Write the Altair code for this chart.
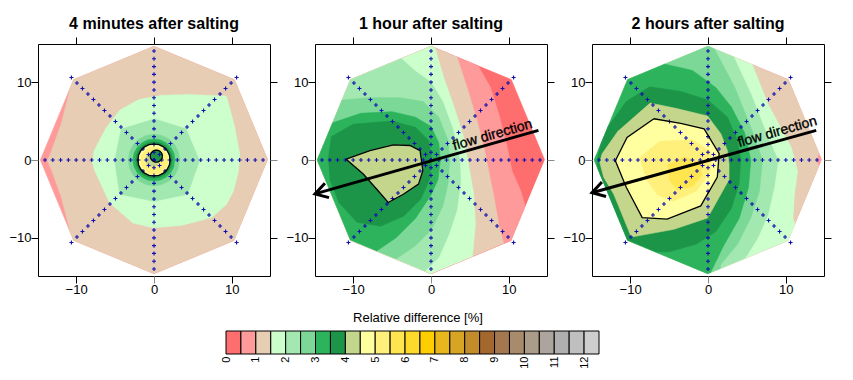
import math
import altair as alt
import pandas as pd

# ---------------- colour scale (25 classes, 0 .. 12.5 % in 0.5 steps) -------------
PALETTE = ["#FF6E6E", "#FF9A9A", "#E6CDB4", "#CCFFCC", "#A3E8B1", "#7BD897",
           "#2CB35C", "#1D9549", "#C3D68B", "#FFFFA0", "#FFF07C", "#FFE650",
           "#FFDA2B", "#FFCE00", "#E8B71E", "#D7A424", "#C28C2A", "#A3672F",
           "#A3774F", "#A88A6C", "#AB9C8A", "#ACA49D", "#AFAFAF", "#BFBFBF", "#CECECE"]
LEGEND_BREAKS = [0, 0.5, 1, 1.5, 2, 2.5, 3, 3.5, 4, 4.5, 5, 5.5, 6, 6.5, 7, 7.5,
                 8, 8.5, 9, 9.5, 10, 10.5, 11, 11.5, 12, 12.5]
LEGEND_LABELS = [0, 1, 2, 3, 4, 5, 6, 7, 8, 9, 10, 11, 12]
LEGEND_TITLE = "Relative difference [%]"

TITLES = ["4 minutes after salting", "1 hour after salting", "2 hours after salting"]
TICKS = [-10, 0, 10]

# measured octagon (sampling domain)
OCTAGON = [(14.6, 0), (10.32, 10.32), (0, 14.6), (-10.32, 10.32),
           (-14.6, 0), (-10.32, -10.32), (0, -14.6), (10.32, -10.32)]

# probe positions (radial offsets along the 4 measuring lines)
AXIS_STEPS = [-14, -13, -12, -11, -10, -9, -8, -7, -6, -5, -4, -3, -2, -1, 0,
              1, 2, 3, 4, 5, 6, 7, 8, 9, 10, 11, 12, 13, 14]
DIAG_STEPS = [-15, -14, -13, -12, -11, -10, -9, -8, -7, -6, -5, -4, -3, -2, -1, 0,
              1, 2, 3, 4, 5, 6, 7, 8, 9, 10, 11, 12, 13, 14, 15]


def ring(cx, cy, r, n=20):
    return [(cx + r * math.cos(2 * math.pi * k / n), cy + r * math.sin(2 * math.pi * k / n))
            for k in range(n)]


# ---------------- contour regions (colour class, outline), painted in order -------
P1_SHAPES = [
    (1, OCTAGON),
    (2, [(-9.5, 16), (-10.3, 10.6), (-10.6, 9.8), (-11.9, 4.7), (-13.3, 0.77), (-13.7, -0.1),
         (-13.1, -1.4), (-11.9, -4.8), (-11.0, -8.25), (-10.4, -10.6), (-9.5, -16), (16, -16), (16, 16)]),
    (3, [(0.7, 8.3), (4.5, 8.4), (9.3, 8.2), (10.3, 4.5), (11.0, 0.8), (10.85, -1.4), (10.2, -4.0),
         (9.3, -5.7), (7.4, -7.4), (3.5, -8.4), (-0.1, -8.7), (-2.7, -8.1), (-5.7, -5.5),
         (-7.6, -1.4), (-7.9, -0.3), (-7.7, 1.2), (-6.1, 4.2), (-4.4, 6.4), (-1.8, 7.85)]),
    (4, [(0, 5.3), (4.1, 4.0), (5.85, -0.1), (4.3, -4.4), (0, -5.3), (-4.4, -4.4), (-5.05, -0.1), (-4.2, 4.0)]),
    (5, ring(0, 0, 3.3)),
    (6, ring(0, 0, 2.7)),
    (7, ring(0, 0, 2.35)),
    (8, ring(0, 0, 2.08)),
    (9, ring(0, 0, 1.95)),
    (10, ring(0.05, -0.1, 1.75)),
    (8, ring(-0.2, 0.05, 0.9)),
    (7, ring(0.3, 0.5, 0.78)),
]
P1_LINES = [ring(0, 0, 2.08), ring(0.3, 0.5, 0.78)]

P2_SHAPES = [
    (0, OCTAGON),
    (1, [(5.6, 16), (6.13, 11.96), (7.6, 9.4), (8.7, 5.9), (9.8, 1.6), (10.4, -1.4), (11.5, -3.9),
         (12.15, -6.1), (13.5, -8.5), (16, -9.5), (16, -16), (-16, -16), (-16, 16)]),
    (2, [(2.9, 16), (3.1, 13.9), (4.6, 9.4), (5.9, 5.1), (6.8, 1.6), (7.4, -1.4), (8.1, -4.8),
         (8.7, -8.3), (9.35, -10.8), (10, -16), (-16, -16), (-16, 16)]),
    (3, [(0.3, 16), (0.54, 14.3), (1.6, 10.7), (3.1, 6.4), (4.2, 2.9), (4.8, -0.5), (5.5, -4.4),
         (5.7, -8.3), (5.3, -12.6), (5.0, -16), (-16, -16), (-16, 16)]),
    (4, [(-4.6, 15.5), (-3.8, 13.0), (-2.0, 11.4), (0, 10.0), (1.5, 7.5), (2.8, 4.0), (3.7, 0),
         (3.8, -3.0), (3.3, -6.5), (2.3, -9.5), (1.0, -12.5), (-1.0, -14.5), (-2, -16),
         (-16, -16), (-16, 16)]),
    (5, [(-12.5, 9.0), (-11.4, 7.7), (-8, 8.0), (-4, 8.0), (-1, 7.5), (1, 5.5), (2.2, 2.5), (2.4, 0),
         (2.2, -3.0), (1.5, -6.0), (0, -9.0), (-2, -11.0), (-4.5, -12.7), (-5.5, -14), (-6, -16),
         (-16, -16), (-16, 9.0)]),
    (6, [(-13.5, 5.5), (-12.6, 4.8), (-9, 6.0), (-5, 6.2), (-2, 5.5), (0, 4.3), (1.0, 2.2), (1.2, 0),
         (0.9, -2.5), (0, -4.5), (-2, -7.5), (-4.5, -10), (-7, -11.7), (-7.5, -13), (-16, -16),
         (-16, 5.5)]),
    (7, [(-13.2, 0), (-12.8, 3), (-10, 4.6), (-5, 5.0), (-2, 4.2), (-0.3, 2.5), (0.1, 0), (-0.2, -2.5),
         (-1.3, -5), (-3.5, -7.2), (-6.5, -8.5), (-9.5, -8), (-11.8, -5.5), (-13, -2.5)]),
    (8, [(-10.9, 0.1), (-7.85, 1.2), (-4.84, 1.94), (-2.7, 1.86), (-1.4, 1.2), (-1.05, -1.37),
         (-1.6, -3.1), (-3.55, -4.4), (-5.5, -5.46), (-6.8, -3.95), (-8.7, -1.8)]),
]
P2_LINES = [P2_SHAPES[-1][1]]

P3_SHAPES = [
    (1, OCTAGON),
    (2, [(-16, 16), (16, 16), (16, 1.5), (14.2, 0.7), (13.9, 0), (14.2, -0.7), (16, -1.5),
         (16, -16), (-16, -16)]),
    (3, [(5.0, 16), (5.7, 12.2), (7.7, 7.2), (10.7, 1.6), (11.5, -1.4), (11.1, -4.4), (10.9, -7.5),
         (11.3, -8.6), (13, -10), (16, -12), (16, -16), (-16, -16), (-16, 16)]),
    (4, [(2.6, 16), (2.9, 14.1), (5.5, 8.5), (7.7, 2.9), (9.0, 0), (8.5, -3.5), (7.7, -7.0),
         (6.4, -10), (5.1, -12.1), (4.0, -13.5), (3.5, -16), (-16, -16), (-16, 16)]),
    (5, [(0.5, 16), (0.8, 14.3), (3.4, 9.4), (5.5, 4.2), (7.0, 0), (6.6, -4), (5.5, -7.4),
         (3.8, -10.8), (1.65, -13.4), (1.2, -16), (-16, -16), (-16, 16)]),
    (6, [(-6, 13.5), (-5.5, 12.3), (-2, 11.5), (1, 9.3), (3, 6.8), (4.7, 3.5), (5.5, 0), (5.2, -3.5),
         (4, -7.5), (2, -11), (0.3, -14.5), (0, -16), (-16, -16), (-16, 16)]),
    (7, [(-14.25, 0), (-13.4, 3.5), (-10.5, 7.5), (-7.5, 9.4), (-3.5, 8.8), (0, 7.7), (2.5, 5.5),
         (3.8, 2.5), (4.2, 0), (4.0, -3), (3.0, -6.2), (1.0, -9.2), (-1.5, -10.8), (-5, -11.8),
         (-8.5, -11.8), (-10.8, -10.6), (-12.5, -7), (-14, -3.5)]),
    (8, [(-7.47, 7.32), (-4, 6.6), (-0.06, 5.65), (1.65, 3.36), (2.5, 1.2), (2.7, -0.5), (2.7, -2.5),
         (1.2, -5.2), (-0.06, -7.45), (-4.37, -8.9), (-9.85, -9.9), (-12.1, -4.4), (-13.4, -2.2),
         (-13.9, -0.3), (-13.6, 0.8), (-11.5, 3.8)]),
    (9, [(-6.95, 5.3), (-3.5, 4.7), (-0.5, 4.0), (1.43, 0.8), (1.2, -2.2), (-0.93, -5.9),
         (-5.25, -7.6), (-8.45, -7.4), (-10.5, -3.5), (-11.9, -0.1), (-10.4, 2.9)]),
    (10, [(-8.8, 0.3), (-6.2, 2.4), (-2, 2.6), (0.4, 1.0), (0.3, -1.5), (-1.5, -4.0), (-4.5, -5.3),
          (-6.5, -4.5), (-8.0, -2.3)]),
    (11, [(-5.2, -0.6), (-3, 0.4), (-1.0, -0.4), (-0.8, -2.0), (-2.0, -3.4), (-4, -3.8), (-5.0, -2.5)]),
]
P3_LINES = [P3_SHAPES[8][1]]

# flow arrow (start, tip) and label position per panel
ARROWS = [None,
          {"start": (13.8, 3.8), "tip": (-14.9, -4.35), "label": (7.9, 3.2)},
          {"start": (13.9, 3.8), "tip": (-14.9, -4.2), "label": (8.9, 3.6)}]
ARROW_LABEL = "flow direction"

FONT = "Liberation Sans"
DOM = [-14.9, 14.9]
PW, PH = 232, 232


def clip_to_octagon(pts):
    out = list(pts)
    n = len(OCTAGON)
    for k in range(n):
        ax, ay = OCTAGON[k]
        bx, by = OCTAGON[(k + 1) % n]
        inp, out = out, []
        if not inp:
            break

        def side(p):
            return (bx - ax) * (p[1] - ay) - (by - ay) * (p[0] - ax)

        s = inp[-1]
        for e in inp:
            cs, ce = side(s), side(e)
            if ce >= 0:
                if cs < 0:
                    t = cs / (cs - ce)
                    out.append((s[0] + t * (e[0] - s[0]), s[1] + t * (e[1] - s[1])))
                out.append(e)
            elif cs >= 0:
                t = cs / (cs - ce)
                out.append((s[0] + t * (e[0] - s[0]), s[1] + t * (e[1] - s[1])))
            s = e
    return out


probe_pts = ([(s, 0) for s in AXIS_STEPS] + [(0, s) for s in AXIS_STEPS]
             + [(s / math.sqrt(2), s / math.sqrt(2)) for s in DIAG_STEPS]
             + [(s / math.sqrt(2), -s / math.sqrt(2)) for s in DIAG_STEPS])
probe_df = pd.DataFrame(probe_pts, columns=["x", "y"])

XS = alt.Scale(domain=DOM, nice=False, zero=False)
YS = alt.Scale(domain=DOM, nice=False, zero=False)
GRAY0 = {"condition": {"test": "datum.value === 0", "value": "#8a8a8a"}, "value": "black"}

CROSS = "M -1 0 L 1 0 M 0 -1 L 0 1"
ARROW_HEAD = "M 1 -0.6 L 0 0 L 1 0.6"


def panel(title, shapes, lines, arrow):
    rows = []
    for k, (ci, pts) in enumerate(shapes):
        for i, (x, y) in enumerate(clip_to_octagon(pts)):
            rows.append({"pid": k, "i": i, "x": x, "y": y, "color": PALETTE[ci]})
    poly_df = pd.DataFrame(rows)
    layers = []
    for k in range(len(shapes)):
        layers.append(
            alt.Chart(poly_df).transform_filter(alt.datum.pid == k)
            .mark_line(strokeWidth=0.6)
            .encode(x=alt.X("x:Q", scale=XS, axis=None),
                    y=alt.Y("y:Q", scale=YS, axis=None),
                    order="i:Q",
                    fill=alt.Fill("color:N", scale=None),
                    stroke=alt.Stroke("color:N", scale=None))
        )
    # probe points with bottom / left axes
    layers.append(
        alt.Chart(probe_df).mark_point(shape=CROSS, size=16, filled=False, color="#1010B0",
                                       strokeWidth=1.1, opacity=1)
        .encode(x=alt.X("x:Q", scale=XS,
                        axis=alt.Axis(orient="bottom", values=TICKS, title=None, tickColor=GRAY0)),
                y=alt.Y("y:Q", scale=YS,
                        axis=alt.Axis(orient="left", values=TICKS, title=None, tickColor=GRAY0)))
    )
    # black contour line (4 %) with top / right tick axes
    lrows = []
    for c, pts in enumerate(lines):
        closed = list(pts) + [pts[0]]
        for i, (x, y) in enumerate(closed):
            lrows.append({"cid": c, "i": i, "x": x, "y": y})
    line_df = pd.DataFrame(lrows)
    layers.append(
        alt.Chart(line_df).mark_line(color="black", strokeWidth=1.3)
        .encode(x=alt.X("x:Q", scale=XS,
                        axis=alt.Axis(orient="top", values=TICKS, title=None, labels=False)),
                y=alt.Y("y:Q", scale=YS,
                        axis=alt.Axis(orient="right", values=TICKS, title=None, labels=False,
                                      tickColor=GRAY0)),
                detail="cid:N", order="i:Q")
    )
    if arrow is not None:
        adf = pd.DataFrame({"x": [arrow["start"][0], arrow["tip"][0]],
                            "y": [arrow["start"][1], arrow["tip"][1]], "i": [0, 1]})
        layers.append(
            alt.Chart(adf).mark_line(color="black", strokeWidth=3)
            .encode(x=alt.X("x:Q", scale=XS, axis=None), y=alt.Y("y:Q", scale=YS, axis=None),
                    order="i:Q"))
        hdf = pd.DataFrame({"x": [arrow["tip"][0]], "y": [arrow["tip"][1]]})
        layers.append(
            alt.Chart(hdf).mark_point(shape=ARROW_HEAD, size=620, filled=False, color="black",
                                      strokeWidth=3, angle=344, opacity=1)
            .encode(x=alt.X("x:Q", scale=XS, axis=None), y=alt.Y("y:Q", scale=YS, axis=None)))
        tdf = pd.DataFrame({"x": [arrow["label"][0]], "y": [arrow["label"][1]], "t": [ARROW_LABEL]})
        layers.append(
            alt.Chart(tdf).mark_text(font=FONT, fontSize=14, angle=344, align="center",
                                     baseline="middle", color="black", stroke="black",
                                     strokeWidth=0.35)
            .encode(x=alt.X("x:Q", scale=XS, axis=None), y=alt.Y("y:Q", scale=YS, axis=None),
                    text="t:N"))
    return (alt.layer(*layers)
            .resolve_axis(x="independent", y="independent")
            .properties(width=PW, height=PH,
                        title=alt.TitleParams(title, fontSize=16, fontWeight="bold", font=FONT,
                                              offset=5, anchor="middle", color="black"),
                        view=alt.ViewBackground(stroke="black", strokeWidth=1)))


panels = [panel(TITLES[0], P1_SHAPES, P1_LINES, ARROWS[0]),
          panel(TITLES[1], P2_SHAPES, P2_LINES, ARROWS[1]),
          panel(TITLES[2], P3_SHAPES, P3_LINES, ARROWS[2])]

# ---------------- colour key ----------------
legend_df = pd.DataFrame({"lo": LEGEND_BREAKS[:-1], "hi": LEGEND_BREAKS[1:], "color": PALETTE})
LEG_X0 = 37          # page x where the key's plot area starts (aligned with first panel)
LEG_W = 2 * (417 - LEG_X0)
px_per = 373 / 12.5
leg_lo = (LEG_X0 - 225) / px_per
leg_dom = [leg_lo, leg_lo + LEG_W / px_per]
legend = (alt.Chart(legend_df).mark_rect(stroke="black", strokeWidth=1)
          .encode(x=alt.X("lo:Q", scale=alt.Scale(domain=leg_dom, nice=False, zero=False),
                          axis=alt.Axis(values=LEGEND_LABELS, title=None, labelAngle=270,
                                        ticks=False, domain=False, labelFontSize=11,
                                        labelPadding=2)),
                  x2="hi:Q",
                  fill=alt.Fill("color:N", scale=None))
          .properties(width=LEG_W, height=23,
                      title=alt.TitleParams(LEGEND_TITLE, fontSize=13, fontWeight="normal",
                                            font=FONT, offset=6, anchor="middle", color="black"),
                      view=alt.ViewBackground(strokeWidth=0)))

chart = (alt.vconcat(alt.hconcat(*panels, spacing=7), legend, spacing=14)
         .properties(padding={"left": 0, "top": 7, "right": 0, "bottom": 0})
         .configure_axis(grid=False, domain=False, tickSize=7, labelPadding=0, labelFontSize=13,
                         labelFont=FONT, labelColor="black", tickColor="black", minExtent=0)
         .configure_view(stroke=None))

chart.save("out.html", embed_options={"renderer": "svg", "actions": False})
